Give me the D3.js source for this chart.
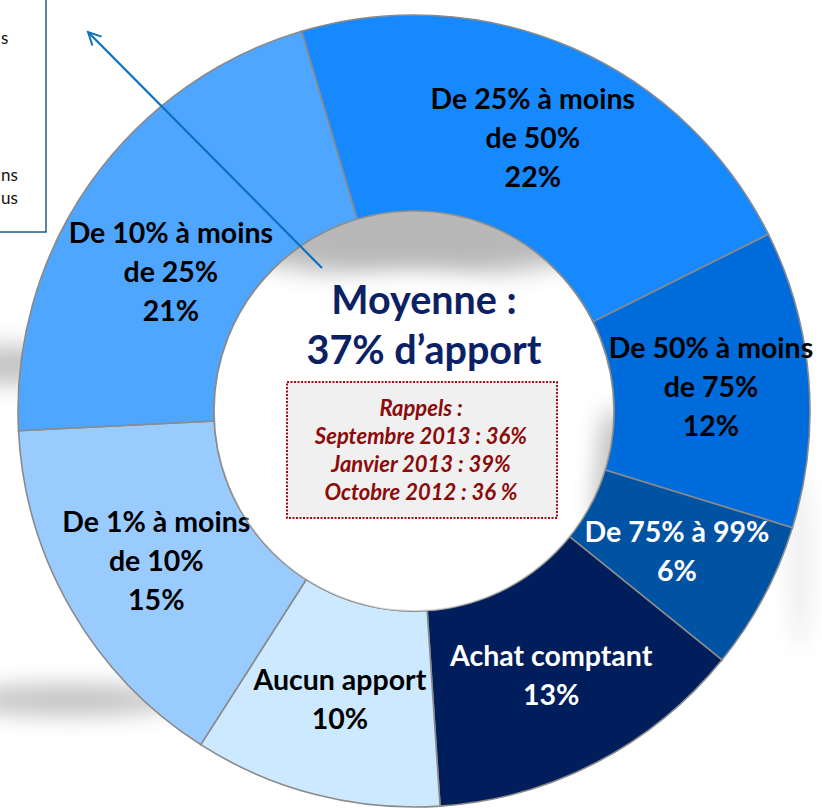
<!DOCTYPE html>
<html><head><meta charset="utf-8">
<script src="https://cdn.jsdelivr.net/npm/d3@7"></script>
<style>
html,body{margin:0;padding:0;background:#fff;}
svg{display:block;font-family:Lato,"Open Sans",sans-serif;}
</style></head>
<body>
<svg id="chart" width="822" height="808"></svg>
<script>
// ---- data ----
const categories = ["De 25% à moins de 50%", "De 50% à moins de 75%", "De 75% à 99%", "Achat comptant", "Aucun apport", "De 1% à moins de 10%", "De 10% à moins de 25%"];
const labelLines = [["De 25% à moins","de 50%"],["De 50% à moins","de 75%"],["De 75% à 99%"],["Achat comptant"],["Aucun apport"],["De 1% à moins","de 10%"],["De 10% à moins","de 25%"]];
const values = [22, 12, 6, 13, 10, 15, 21];
const colors = ["#1689ff", "#006cdc", "#0052a3", "#001e5c", "#cde9ff", "#9acbff", "#4fa6ff"];
const textColors = ["#000", "#000", "#fff", "#fff", "#000", "#000", "#000"];
const labelNudge = [[0,0],[0,0],[0,0],[0,0],[0,0],[0,0],[0,33]];
const centerTitle = ["Moyenne :", "37% d\u2019apport"];
const rappels = ["Rappels :", "Septembre 2013 : 36%", "Janvier 2013 : 39%", "Octobre 2012 : 36 %"];
const legendFragments = ["s", "ns", "us"];

// ---- layout ----
const svg = d3.select("#chart");
const cx = 414, cy = 411, R = 396, r = 200;
const defs = svg.append("defs");
defs.append("filter").attr("id","blur").attr("x","-50%").attr("y","-50%").attr("width","200%").attr("height","200%")
  .append("feGaussianBlur").attr("stdDeviation", 11);
defs.append("filter").attr("id","blur2").attr("x","-50%").attr("y","-50%").attr("width","200%").attr("height","200%")
  .append("feGaussianBlur").attr("stdDeviation", 12);
defs.append("clipPath").attr("id","holeClip").append("circle").attr("cx",cx).attr("cy",cy).attr("r",r);
const mk = defs.append("marker").attr("id","arrow").attr("viewBox","0 0 20 20").attr("refX",18).attr("refY",10)
  .attr("markerWidth",16).attr("markerHeight",16).attr("markerUnits","userSpaceOnUse").attr("orient","auto");
mk.append("path").attr("d","M2,2 L18,10 L2,18").attr("fill","none").attr("stroke","#1070c0").attr("stroke-width",2.4);

// outer shadows (soft grey)
const shadow = svg.append("g").attr("filter","url(#blur)").attr("fill","#c4c4c4");
shadow.append("ellipse").attr("cx", 10).attr("cy", 365).attr("rx", 45).attr("ry", 20);
shadow.append("ellipse").attr("cx", 70).attr("cy", 700).attr("rx", 110).attr("ry", 16);
shadow.append("ellipse").attr("cx", 800).attr("cy", 560).attr("rx", 8).attr("ry", 90).attr("fill","#e6e6e6");

// ---- pie ----
const startA = -16.5 * Math.PI / 180;
const pie = d3.pie().sort(null).value(d => d).startAngle(startA).endAngle(startA + 2*Math.PI);
const arcs = pie(values);
const arc = d3.arc().innerRadius(r).outerRadius(R);
const g = svg.append("g").attr("transform", `translate(${cx},${cy})`);
g.selectAll("path.slice").data(arcs).join("path").attr("class","slice")
  .attr("d", arc).attr("fill", (d,i) => colors[i]).attr("stroke", "#8a8a8a").attr("stroke-width", 1.6);

// hole
g.append("circle").attr("r", r).attr("fill", "#fff").attr("stroke","#8a8a8a").attr("stroke-width",1.6);
const hs = svg.append("g").attr("clip-path","url(#holeClip)");
hs.append("ellipse").attr("cx", cx).attr("cy", cy - 205).attr("rx", 250).attr("ry", 70)
  .attr("fill","#9a9a9a").attr("opacity",0.7).attr("filter","url(#blur2)");
hs.append("ellipse").attr("cx", cx + 200).attr("cy", cy + 60).attr("rx", 30).attr("ry", 60)
  .attr("fill","#9a9a9a").attr("opacity",0.55).attr("filter","url(#blur2)");
hs.append("ellipse").attr("cx", cx).attr("cy", cy + 35).attr("rx", 180).attr("ry", 170)
  .attr("fill","#fff").attr("filter","url(#blur2)");

// slice labels
const lblArc = d3.arc().innerRadius((r+R)/2).outerRadius((r+R)/2);
const lh = 39;
arcs.forEach((d, i) => {
  const [x, y] = lblArc.centroid(d);
  const lines = labelLines[i].concat([Math.round(values[i]) + "%"]);
  const n = lines.length;
  const t = g.append("text").attr("text-anchor","middle").attr("font-weight","bold").attr("font-size",28.5)
    .attr("fill", textColors[i]);
  lines.forEach((s, k) => {
    t.append("tspan").attr("x", x + labelNudge[i][0])
      .attr("y", y + labelNudge[i][1] + (k - (n-1)/2) * lh).attr("dy","0.35em").text(s);
  });
});

// center text
const ct = svg.append("text").attr("text-anchor","middle").attr("font-weight","bold").attr("font-size",39.5).attr("fill","#0b2164");
centerTitle.forEach((s,k) => ct.append("tspan").attr("x", cx + 10).attr("y", 300 + k*50).attr("dy","0.35em").text(s));

// rappels box
svg.append("rect").attr("x", 287).attr("y", 382).attr("width", 270).attr("height", 136)
  .attr("fill","#f0f0f0").attr("stroke","#a01010").attr("stroke-width",2).attr("stroke-dasharray","2,1.5");
const rt = svg.append("text").attr("text-anchor","middle").attr("font-weight","bold").attr("font-style","italic")
  .attr("font-size",22).attr("fill","#8b0a0a");
rappels.forEach((s,k) => rt.append("tspan").attr("x", 421).attr("y", 408 + k*28).attr("dy","0.35em").text(s));

// legend box fragment (cut at left)
svg.append("rect").attr("x", -2).attr("y", -2).attr("width", 48).attr("height", 234)
  .attr("fill","#fff").attr("stroke","#1f5a87").attr("stroke-width",1.5);
const lgPos = [[1, 44], [1, 181], [1, 204]];
legendFragments.forEach((s, k) => svg.append("text").attr("x", lgPos[k][0]).attr("y", lgPos[k][1])
  .attr("font-size",17).attr("fill","#111").text(s));

// arrow
svg.append("line").attr("x1", 322).attr("y1", 268).attr("x2", 88).attr("y2", 32)
  .attr("stroke","#1070c0").attr("stroke-width",2.2).attr("marker-end","url(#arrow)");
</script>
</body></html>
